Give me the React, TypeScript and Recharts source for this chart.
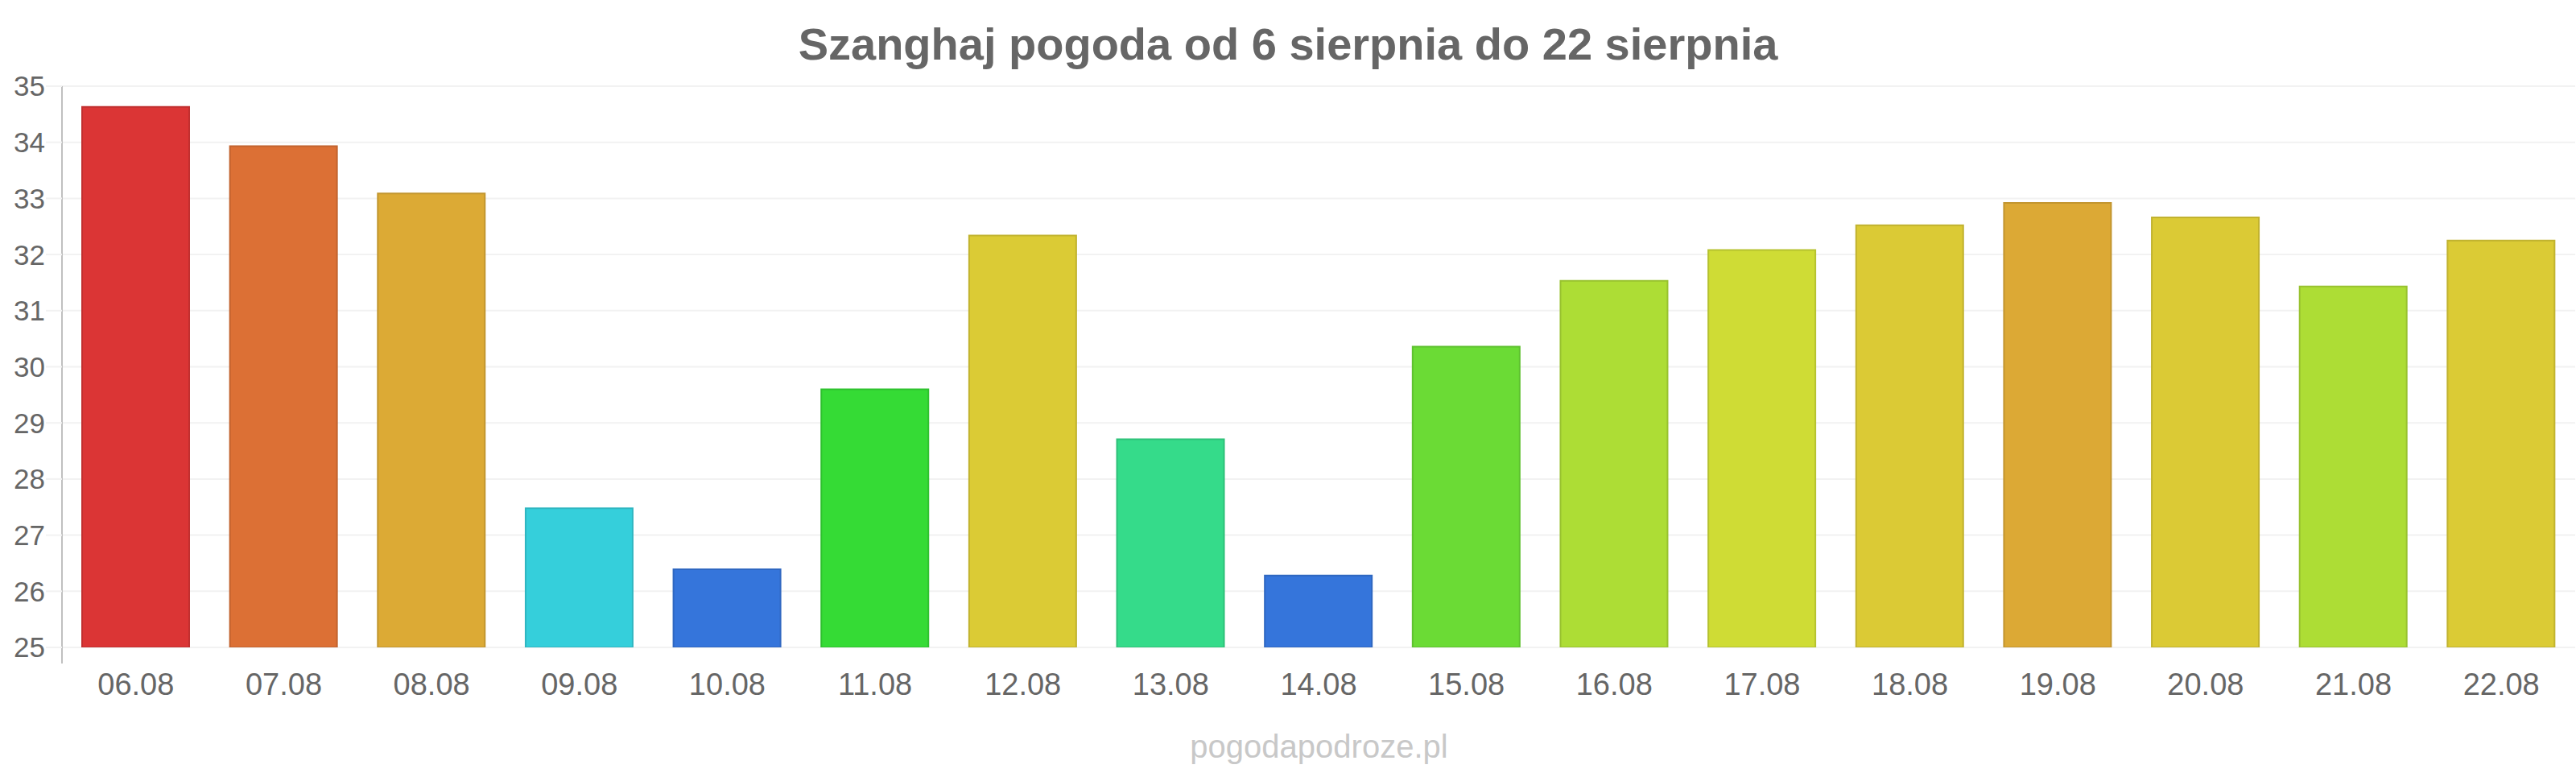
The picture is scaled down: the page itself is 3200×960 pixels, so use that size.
import React from "react";
import { BarChart, Bar, XAxis, YAxis, CartesianGrid, Cell, Customized } from "recharts";

const days = [
  "06.08", "07.08", "08.08", "09.08", "10.08", "11.08", "12.08", "13.08", "14.08",
  "15.08", "16.08", "17.08", "18.08", "19.08", "20.08", "21.08", "22.08",
];
const maxTemps = [
  34.63, 33.93, 33.09, 27.48, 26.39, 29.6, 32.34, 28.71, 26.28,
  30.36, 31.53, 32.08, 32.52, 32.92, 32.66, 31.43, 32.25,
];
const tempTicks = [25, 26, 27, 28, 29, 30, 31, 32, 33, 34, 35];
const barColors = [
  "#db3535", "#dc7035", "#dcaa35", "#35cfdb", "#3575db", "#35db35", "#dbcb35", "#35db8a", "#3575db",
  "#6bdb35", "#addd35", "#cfdc35", "#dbca35", "#dca935", "#dbca35", "#addd35", "#dbcb35",
];

const data = days.map((day, i) => ({ day, temp: maxTemps[i] }));

const W = 3200;
const H = 960;
const TOP = 107;
const BOTTOM = 156;
const LEFT = 77;
const FONT = "'Liberation Sans', Arial, sans-serif";

function darken(hex: string, f = 0.88) {
  const n = parseInt(hex.slice(1), 16);
  const r = Math.round(((n >> 16) & 255) * f);
  const g = Math.round(((n >> 8) & 255) * f);
  const b = Math.round((n & 255) * f);
  return `rgb(${r},${g},${b})`;
}

// title, watermark and the axis line that runs a bit below the plot
function Decorations() {
  const plotBottom = H - BOTTOM;
  return (
    <g>
      <text x={W / 2} y={74} textAnchor="middle" fill="#666" fontSize={56} fontWeight="bold" fontFamily={FONT}>
        Szanghaj pogoda od 6 sierpnia do 22 sierpnia
      </text>
      <text x={(LEFT + W) / 2} y={941} textAnchor="middle" fill="#c8c8c8" fontSize={40} fontFamily={FONT}>
        pogodapodroze.pl
      </text>
      <line x1={LEFT} x2={LEFT} y1={TOP} y2={plotBottom + 20} stroke="#c0c0c0" strokeWidth={2} />
    </g>
  );
}

export default function App() {
  return (
    <div style={{ position: "absolute", left: 0, top: 0, width: W, height: H, background: "#fff" }}>
      <BarChart
        width={W}
        height={H}
        data={data}
        margin={{ top: TOP, right: 1, left: 0, bottom: BOTTOM - 60 }}
      >
        <CartesianGrid vertical={false} stroke="#f2f2f2" strokeWidth={2} />
        <XAxis
          dataKey="day"
          height={60}
          axisLine={false}
          tickLine={false}
          tickSize={0}
          tickMargin={32}
          tick={{ fill: "#666", fontSize: 38, fontFamily: FONT }}
          interval={0}
        />
        <YAxis
          width={LEFT}
          domain={[25, 35]}
          ticks={tempTicks}
          allowDataOverflow
          axisLine={false}
          tickLine={{ stroke: "#f2f2f2", strokeWidth: 2 }}
          tickSize={20}
          tickMargin={1}
          tick={{ fill: "#666", fontSize: 35, fontFamily: FONT }}
        />
        <Bar dataKey="temp" barSize={133} isAnimationActive={false}>
          {data.map((d, i) => (
            <Cell key={d.day} fill={barColors[i]} stroke={darken(barColors[i])} strokeWidth={2} />
          ))}
        </Bar>
        <Customized component={<Decorations />} />
      </BarChart>
    </div>
  );
}
